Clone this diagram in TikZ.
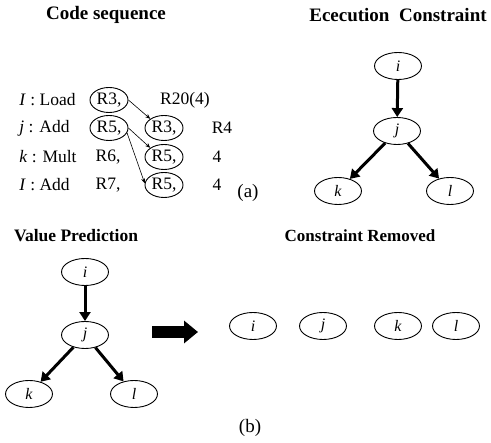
\documentclass[tikz,border=0pt]{standalone}
\usepackage{fontspec}
\setmainfont{Liberation Serif}
\usetikzlibrary{arrows.meta,positioning,shapes.geometric}

\begin{document}
\begin{tikzpicture}[x=1pt,y=-1pt,line width=0.9pt,
  title/.style={font=\fontsize{19}{22}\selectfont\bfseries},
  code/.style={font=\fontsize{17.5}{20}\selectfont,anchor=west,inner sep=0},
  txt/.style={font=\fontsize{17.5}{20}\selectfont,inner sep=0},
  reg/.style={draw,ellipse,minimum width=38pt,minimum height=25pt,inner sep=0,font=\fontsize{17.5}{20}\selectfont},
  vnode/.style={draw,ellipse,minimum width=47pt,minimum height=27pt,inner sep=0,font=\fontsize{16}{18}\selectfont\itshape},
  dep/.style={-{Stealth[length=5pt,width=4pt]},line width=0.6pt},
  cons/.style={-{Triangle[length=9pt,width=11pt]},line width=3pt}]
  \useasboundingbox (0,0) rectangle (491,443);
  % (a) code sequence
  \node[title] (codet) at (106,15) {Code sequence};
  \node[code] (rowi) at (19,100) {\textit{I} : Load};
  \node[code] (rowj) at (19,128) {\textit{j} : Add};
  \node[code] (rowk) at (19,157) {\textit{k} : Mult};
  \node[code] (rowl) at (19,185) {\textit{I} : Add};
  \node[reg] (ri3) at (109,100) {R3,};
  \node[txt] (ri20) at (185,100) {R20(4)};
  \node[reg] (rj5) at (109,128) {R5,};
  \node[reg] (rj3) at (164,128) {R3,};
  \node[txt] (rj4) at (222,128) {R4};
  \node[txt] (rk6) at (108,157) {R6,};
  \node[reg] (rk5) at (164,157) {R5,};
  \node[txt] (rk4) at (217,157) {4};
  \node[txt] (rl7) at (108,185) {R7,};
  \node[reg] (rl5) at (164,185) {R5,};
  \node[txt] (rl4) at (217,185) {4};
  \draw[dep] (ri3.east) -- (rj3.north west);
  \draw[dep] (rj5.east) -- (rk5.north west);
  \draw[dep] (rj5.-15) -- (rl5.175);
  \node[font=\fontsize{19}{22}\selectfont] (capa) at (248,193) {(a)};
  % (a) execution constraint
  \node[title] (exect) at (398,15) {Ececution\ \ Constraint};
  \node[vnode] (ai) at (398,66) {i};
  \node[vnode] (aj) at (397,131) {j};
  \node[vnode] (ak) at (338,191) {k};
  \node[vnode] (al) at (450,191) {l};
  \draw[cons] (ai) -- (aj);
  \draw[cons] (aj) -- (ak);
  \draw[cons] (aj) -- (al);
  % (b) value prediction
  \node[title,font=\fontsize{17.5}{20}\selectfont\bfseries] (valt) at (76,236) {Value Prediction};
  \node[vnode] (bi) at (85,272) {i};
  \node[vnode] (bj) at (85,335) {j};
  \node[vnode] (bk) at (29,394) {k};
  \node[vnode] (bl) at (134,394) {l};
  \draw[cons] (bi) -- (bj);
  \draw[cons] (bj) -- (bk);
  \draw[cons] (bj) -- (bl);
  \coordinate (arrs) at (152,332);
  \coordinate (arre) at (198,332);
  \draw[line width=12pt,-{Triangle[length=14pt,width=22pt]}] (arrs) -- (arre);
  % constraint removed
  \node[title,font=\fontsize{17}{20}\selectfont\bfseries] (remt) at (360,236) {Constraint Removed};
  \node[vnode] (ci) at (253,326) {i};
  \node[vnode] (cj) at (323,326) {j};
  \node[vnode] (ck) at (398,326) {k};
  \node[vnode] (cl) at (456,326) {l};
  \node[font=\fontsize{19}{22}\selectfont] (capb) at (250,428) {(b)};
\end{tikzpicture}
\end{document}
